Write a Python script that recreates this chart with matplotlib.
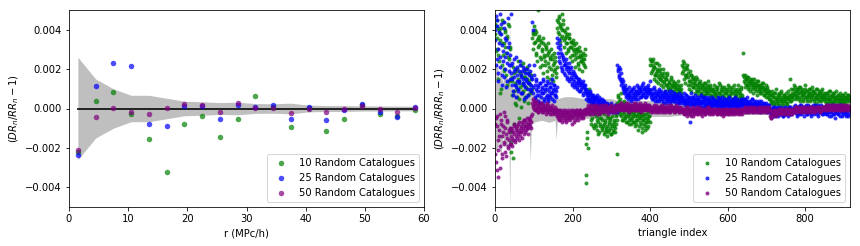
import numpy as np
import matplotlib
matplotlib.use("Agg")
import matplotlib.pyplot as plt

# ---------------- Left panel data ----------------
r_bins = [1.5, 4.5, 7.5, 10.5, 13.5, 16.5, 19.5, 22.5, 25.5, 28.5,
          31.5, 34.5, 37.5, 40.5, 43.5, 46.5, 49.5, 52.5, 55.5, 58.5]
dr_10 = [-0.0022, 0.0004, 0.00084, -0.00027, -0.00153, -0.0032, -0.00077, -0.00037, -0.00143, -0.00052,
         0.00064, 0.0001, -0.00093, 0.00003, -0.00113, -0.00052, 0.0002, -0.00027, -0.0004, -0.00007]
dr_25 = [-0.00234, 0.00114, 0.0023, 0.00217, -0.00077, -0.00088, 0.00015, 0.00012, -0.00052, 0.00019,
         0.0001, 0.00019, -0.00052, 0.00007, -0.00057, -0.00007, 0.00024, -0.00017, -0.00042, 0.00008]
dr_50 = [-0.00209, -0.00045, 0.00003, -0.00017, -0.00027, 0.00003, 0.00024, 0.00017, -0.00017, 0.00029,
         0.00003, 0.00003, -0.00022, -0.00002, -0.00017, -0.00002, 0.00013, 0.0, -0.00017, 0.00003]
dr_std = [0.0026, 0.0015, 0.001, 0.00067, 0.00067, 0.00052, 0.00037, 0.00034, 0.0003, 0.00032,
          0.00025, 0.00024, 0.00027, 0.00017, 0.00015, 0.00015, 0.00013, 0.00013, 0.00012, 0.00012]

# ---------------- Right panel data (units of 1e-4) ----------------
# even triangle indices 0,2,4,... and odd triangle indices 1,3,5,...
tri_10_even = [
    "38 42 30 45 27 40 8 35 41 22 44 33 19 39 28 36 12 43 25 31",
    "-17 -22 14 -25 9 18 3 12 20 6 15 -5 11 17 22 8 13 19 4 16 10 21 7 14 18 12 9 15",
    "36 39 33 38 40 28 35 50 31 37 26 34 29 22 36 27 32 24 30 19 28 33 21 26 30 17 25 22 28 20 24 18",
    "41 44 38 46 42 36 48 40 43 35 39 37 33 41 29 36 38 31 34 27 35 30 32 25 33 28 30 22 31 26 29 24 27 23 28 25 30",
    "-34 -38 -15 -20 5 -3 8 -6 2 -9 -1 6 -8 -4 -11 0 -7 -12 -3 -9 -5 -10 -2 -8 -13 -6 -11 -4 -9 -12 -7 -10 -5 -13 -8 -11 -6 -9 -12 -4 -23",
    "3 7 -2 5 8 -4 1 -6 -3 4 -5 -1 -7 -2 -4 -8 -3 -6 0 -5 -2 -7 -4 -9 -1 -6 -3 -11 -5 -2 -8 -4 -12 -6 -3 -9 -5 -7 -10 -2 -6 -4",
    "25 24 22 19 25 21 17 23 18 20 16 19 22 15 18 14 17 20 13 16 12 15 18 11 14 13 10 16 12 9 14 11 13 8 12 10 14 9 11 7 10",
    "22 24 19 23 17 21 16 20 18 14 19 12 17 15 11 16 13 14 10 15 12 9 13 11 14 8 12 10 13 7 11 9 12 8 14 10 7 11 9 6 10 8 12 7",
    "9 6 11 5 8 12 7 10 4 9 6 11 8 5 10 7 12 6 9 4 8 11 5 9 7 10 6 8 12 5 9 7 4 10 6",
    "28 16 13 17 15 12 16 14 11 15 13 10 14 12 15 11 13 9 12 14 10 12 8 11 13 9 11 7 10 12 8 10 6 9 7",
    "5 3 7 4 6 2 8 5 3 6 4 7 2 5 8 3 6 4 7 5 3 6 2 5 7 4 15 6 8 5",
    "10 8 11 6 9 7 10 5 8 11 6 9 7 4 8 10 6 9 5 7 8 4 10 6 7 9 5 8 6 3 7 10 5 8 6 4 9 7 5 6",
    "6 4 8 5 3 7 5 9 4 6 3 7 5 8 4 6 2 5 7 4 6 3 5 7 4 6 5 3 6 4 7 5 6",
]
tri_10_odd = [
    "43 29 36 15 41 24 38 10 33 45 27 20 40 31 17 37 26 42 14 30",
    "-12 16 7 21 -8 13 2 19 10 24 5 14 18 1 12 23 9 16 6 20 11 15 3 18 13 8 17 10",
    "38 30 42 34 27 39 24 36 32 21 35 25 30 18 33 26 22 31 16 27 23 29 15 25 20 27 14 23 19 26 16 21",
    "45 39 47 43 34 41 37 45 31 40 36 28 38 33 30 36 26 34 31 24 33 27 29 21 30 26 23 29 20 27 24 26 19 25 22 27 21",
    "-18 -12 8 -2 10 0 -8 4 -5 3 -10 -3 1 -9 -6 -2 -13 -5 -8 -1 -11 -6 -9 -3 -12 -7 -10 -14 -5 -8 -11 -6 -13 -9 -4 -12 -7 -10 -3 -8 -6",
    "6 -1 4 -3 2 -6 -2 3 -5 0 -4 -7 1 -3 -6 -1 -5 -8 -2 -4 -7 -3 -1 -6 -8 -4 -2 -9 -5 -7 -3 -10 -6 -4 -8 -11 -3 -7 -5 -9 -4 -7",
    "22 18 24 20 15 21 17 14 19 23 13 17 15 20 12 16 11 18 14 9 15 12 17 10 13 8 15 11 12 9 13 7 11 10 8 12 6 10 9 12 8",
    "18 21 15 20 13 17 22 12 16 10 14 17 9 13 11 15 8 12 16 9 11 7 13 10 8 12 6 11 9 13 7 10 8 11 5 9 12 7 10 6 9 5 8 11",
    "7 10 4 8 13 6 9 3 11 7 5 10 8 3 9 6 11 4 7 10 5 8 3 12 6 9 7 4 10 5 8 6 11 7 5",
    "17 14 11 15 12 16 10 13 14 9 12 15 11 8 13 10 12 7 14 11 9 12 10 8 11 13 7 10 9 6 11 8 9 5 8",
    "7 4 9 3 6 8 4 10 5 7 3 8 6 4 9 5 2 7 6 4 8 3 6 9 5 7 4 10 6 7",
    "12 7 9 5 10 8 6 11 4 9 7 10 5 8 12 6 9 4 7 10 6 8 5 11 7 9 4 8 6 10 5 7 9 4 8 6 10 5 7 8",
    "7 5 3 8 6 4 9 5 7 3 6 8 4 6 5 9 3 7 5 4 8 6 3 7 5 4 8 2 6 5 7 4 5",
]
tri_25_even = [
    "40 47 25 42 18 33 48 21 38 12 29 44 16 26 35 14 23 31 19 27",
    "48 22 15 9 19 25 12 6 17 21 10 14 24 8 16 19 13 5 20 11 15 18 7 13 22 10 16 12",
    "44 40 22 12 6 15 9 4 11 7 13 3 10 8 14 5 9 12 6 10 4 13 7 11 8 15 5 9 12 7 10 6",
    "33 28 35 24 30 21 27 19 25 22 17 23 20 15 21 18 14 20 16 12 19 15 11 17 13 16 10 14 12 15 9 13 11 14 8 12 10",
    "8 5 9 6 7 4 8 5 6 3 7 4 5 6 2 5 3 4 1 5 2 3 0 4 1 2 -1 3 0 2 -1 1 0 2 -2 1 -1 0 1 -1 0",
    "22 19 16 20 14 12 15 10 11 8 9 6 10 7 5 8 6 9 4 7 10 5 8 6 9 7 11 5 8 10 6 9 12 7 10 8 11 6 9 12 8 10",
    "9 6 8 5 7 10 4 6 8 5 7 9 4 6 8 5 7 3 6 8 5 7 4 6 9 5 3 7 5 6 4 8 5 6 3 7 4 6 5 3 6",
    "5 3 6 4 2 5 7 3 4 6 2 -7 5 3 4 6 2 5 3 4 1 5 3 6 2 4 3 5 1 4 6 2 3 5 2 4 3 1 4 2 5 3 2 4",
    "3 1 4 2 5 3 1 4 2 3 5 2 1 4 3 2 5 1 3 4 2 1 3 5 2 4 1 3 2 4 1 3 5 2 3",
    "4 2 3 5 1 3 2 4 1 3 2 5 1 2 4 0 3 2 1 3 4 0 2 1 3 -1 2 0 1 3 -1 1 0 2 -1",
    "-2 0 -3 -1 1 -2 -4 0 -1 -3 1 -2 0 -3 -1 -2 0 -4 -1 1 -2 -3 0 -1 -2 1 -3 -1 0 -2",
    "-1 1 -2 0 -3 1 -1 -2 2 0 -3 -1 1 -2 0 -1 2 -3 0 1 -2 -1 1 -3 0 2 -1 -2 1 0 -3 -1 2 0 -2 1 -1 0 -3 1",
    "0 -2 1 -3 -1 2 0 -2 -4 1 -1 0 -3 2 -1 -2 1 0 -3 -1 2 -2 0 -4 1 -1 -2 0 -3 1 -1 -4 0",
]
tri_25_odd = [
    "35 22 45 30 14 39 26 43 17 32 24 41 20 36 11 28 46 22 33 15",
    "18 12 23 7 16 20 11 26 14 9 19 13 22 17 8 15 21 12 18 6 14 20 10 17 13 19 9 15",
    "11 8 17 5 10 14 7 12 3 9 13 6 11 15 8 4 10 12 7 14 5 9 11 6 13 8 10 4 12 7 9 11",
    "36 31 26 32 23 28 20 26 24 18 22 25 16 21 19 23 15 18 21 13 17 14 18 12 16 11 15 13 9 14 12 10 13 7 11 9 12",
    "10 7 4 8 5 9 3 6 7 4 2 6 5 3 7 1 4 6 2 3 5 1 4 2 0 3 1 -1 2 1 -2 0 3 -1 1 0 -2 2 -1 1 -2",
    "20 17 21 15 18 13 11 14 9 12 7 10 8 6 11 7 9 5 10 6 8 11 7 9 5 12 8 10 6 9 11 7 13 8 10 6 9 11 7 10 9 8",
    "14 7 10 5 8 11 6 9 7 4 8 10 6 5 9 7 4 8 6 9 3 7 5 8 6 4 7 9 5 6 8 4 6 7 5 3 6 8 4 5 7",
    "6 4 8 3 5 7 4 2 6 5 3 8 4 6 2 5 7 3 4 6 2 5 4 3 7 1 4 6 3 2 5 4 1 6 3 5 2 4 6 1 3 5 2 4",
    "4 2 6 3 1 5 2 4 6 1 3 5 2 4 0 3 6 2 4 1 5 3 2 4 6 1 3 5 2 0 4 2 3 5 1",
    "3 5 2 4 1 6 3 2 4 0 3 5 1 2 3 -1 4 2 0 3 1 -2 2 4 0 1 3 -1 2 0 -2 1 2 -1 0",
    "-3 -1 0 -4 -2 -1 1 -3 -2 0 -4 -1 -3 1 -2 -1 -4 0 -2 -3 -1 0 -4 -2 1 -1 -3 -2 0 -1",
    "0 -2 2 -1 -4 0 1 -3 -1 2 -2 0 -1 -4 1 -2 0 -3 2 -1 0 -2 -4 1 -1 0 -3 2 -2 -1 0 -4 1 -2 -1 2 -3 0 -1 -2",
    "-1 1 -3 0 -2 -4 1 -1 -2 2 -3 0 -1 -5 1 -2 0 -3 -1 2 -4 -1 0 -2 -3 1 -1 -4 0 -2 1 -3 -1",
]
tri_50_even = [
    "-23 -5 -31 -9 -35 -14 -3 -19 -8 -23 -12 -2 -17 -10 -24 -6 -15 -20 -11 -18",
    "-14 -18 -11 -16 -9 -13 -17 -10 -12 -15 -8 -11 -14 -9 -12 -7 -10 -13 -6 -9 -11 -5 -8 -10 -6 -9 -4 -7",
    "3 1 4 -1 2 0 3 -2 1 2 -1 0 3 -2 1 -1 2 0 -3 1 -1 2 -2 0 1 -3 -1 0 -2 1 -1 -2",
    "-3 -5 -1 -4 -6 -2 -3 -7 -1 -4 -5 -2 -3 -6 -1 -4 -2 -5 -3 -8 -1 -4 -2 -6 -3 -1 -5 -2 -4 -3 -1 -5 -2 -3 -4 -1 -2",
    "-2 0 -3 1 -1 -2 0 2 -1 -3 0 1 -2 -1 2 0 -1 -3 1 0 -2 1 -1 0 2 -2 -1 1 0 -2 1 -1 0 2 -1 -2 1 0 -1 2 0",
    "1 0 2 -1 1 3 0 2 -1 1 0 2 1 -1 3 0 1 2 -1 0 2 1 -1 1 3 0 -1 2 1 0 -2 1 2 0 -1 1 3 0 1 -1 2 0",
    "0 -1 1 -2 0 2 -1 0 1 -2 -1 1 0 -1 2 -2 0 1 -1 0 -2 1 0 -1 1 -2 0 2 -1 0 1 -1 -2 0 1 -1 0 -2 1 0 -1",
    "-1 -2 0 -3 -1 1 -2 -4 0 -1 -3 -2 0 -1 -4 1 -2 -1 0 -3 -2 -1 1 -2 0 -3 -1 -2 0 -1 -3 0 -2 -1 1 -2 -1 0 -3 -1 -2 0 -1 -2",
    "-2 -1 -3 0 -2 -1 -3 -2 0 -1 -3 -2 -1 0 -2 -3 -1 -2 0 -1 -3 -2 -1 -2 0 -3 -1 -2 -1 0 -2 -3 -1 -2 -1",
    "-1 0 -2 1 -1 0 -2 -1 1 0 -1 -2 0 1 -1 0 -2 -1 0 1 -1 -2 0 -1 1 0 -2 -1 0 -1 1 -2 0 -1 0",
    "-4 -5 -3 -2 -4 -1 -3 -2 -1 -3 -2 0 -2 -1 -3 -1 -2 0 -1 -2 -3 -1 0 -2 -1 -3 -1 0 -2 -1",
    "-1 0 -2 1 0 -1 -2 0 1 -1 0 -2 -1 1 0 -1 0 -2 1 -1 0 1 -1 -2 0 1 0 -1 -2 0 1 -1 0 1 -2 0 -1 1 0 -1",
    "0 1 -1 2 0 1 -1 0 2 1 0 -1 1 2 0 1 -1 0 1 2 -1 0 1 0 2 -1 1 0 1 -1 2 0 1",
]
tri_50_odd = [
    "-8 -27 -4 -16 -21 -11 -30 -6 -14 -25 -9 -18 -4 -22 -13 -7 -19 -12 -16 -10",
    "-10 -15 -19 -12 -8 -16 -11 -14 -9 -13 -16 -7 -12 -10 -15 -8 -11 -6 -12 -9 -7 -10 -13 -5 -8 -6 -10 -3",
    "5 2 0 3 -1 4 1 -2 2 0 3 1 -1 2 -2 0 1 -1 3 -2 0 1 -1 -3 0 2 -2 -1 0 -3 0 -1",
    "-4 -2 -6 -3 -1 -5 -4 -2 -6 -3 -1 -7 -4 -2 -5 -3 -6 -1 -4 -2 -5 -3 -7 -2 -4 -1 -3 -6 -2 -1 -4 -3 -2 -5 -1 -3 -2",
    "0 -1 -2 2 0 -3 1 -1 0 -2 2 -1 0 1 -3 -1 1 0 -2 2 -1 0 -2 1 -1 0 2 -1 -3 0 1 -1 2 0 -2 1 -1 0 1 -2 1",
    "2 -1 1 0 3 1 -1 2 0 1 3 -1 0 2 1 -2 0 2 1 -1 1 3 0 2 -1 1 0 2 -1 3 1 0 -1 2 1 0 2 -1 1 0 2 1",
    "1 -2 0 -1 1 0 -2 2 -1 0 1 -2 -1 0 1 -1 2 0 -2 1 -1 0 -1 2 0 -2 1 -1 0 1 -2 0 -1 2 -1 0 1 -2 0 -1 1",
    "-2 0 -1 -3 -2 0 -1 -3 1 -2 -1 0 -4 -2 -1 -3 0 -2 -1 1 -3 -2 0 -1 -2 -4 -1 0 -2 -3 -1 0 -2 1 -1 -3 -2 0 -1 -2 -3 -1 0 -2",
    "-1 -3 -2 -1 0 -3 -2 -1 -2 -4 -1 0 -2 -3 -1 -2 -1 -3 -2 0 -2 -1 -3 0 -1 -2 -2 -1 -3 -2 0 -1 -2 -3 -1",
    "0 -1 1 -2 0 -1 0 -2 -1 1 -1 0 -2 0 1 -1 -1 0 -2 -1 0 -1 1 -2 -1 0 1 -1 -2 0 -1 0 -2 1 -1",
    "-5 -4 -2 -3 -1 -3 -2 -4 -2 -1 -3 -1 -2 -3 0 -2 -1 -3 -2 -1 0 -2 -3 -1 -2 0 -2 -1 -3 -1",
    "0 -1 1 -1 -2 0 1 -1 0 -2 1 0 -1 0 -2 1 -1 0 -1 1 -2 0 -1 1 0 -1 -2 1 0 -1 0 1 -1 0 -2 1 0 -1 1 0",
    "1 0 2 -1 1 0 2 1 -1 0 1 2 0 -1 1 0 2 1 0 1 -1 2 0 1 -1 0 2 1 0 1 -1 1 0",
]
band_idx = [0, 5, 10, 15, 20, 25, 30, 36, 38, 40, 42, 50, 60, 70, 80, 88, 91, 94, 100, 120,
            140, 155, 158, 161, 180, 200, 230, 260, 300, 316, 350, 400, 450, 500, 560, 640, 700, 760, 820, 880, 916]
band_hi = [20, 25, 15, 22, 13, 18, 16, 14, 45, 14, 11, 10, 9, 11, 8, 9, 10, 8, 7, 6,
           7, 6, 6, 5, 6, 6, 5, 5, 5, 4, 4, 4, 4, 4, 3, 3, 3, 2, 2, 2, 2]
band_lo = [-20, -22, -16, -25, -14, -18, -20, -15, -50, -16, -12, -10, -11, -9, -10, -9, -27, -8, -7, -6,
           -7, -6, -16, -5, -6, -5, -5, -5, -5, -4, -4, -4, -4, -3, -3, -3, -3, -2, -2, -2, -2]
n_triangles = 916

labels = ["10 Random Catalogues", "25 Random Catalogues", "50 Random Catalogues"]
colors = ["green", "blue", "purple"]


def parse(segs):
    return np.array([int(v) for s in segs for v in s.split()]) * 1e-4


def series(even_segs, odd_segs):
    ye = parse(even_segs)
    yo = parse(odd_segs)
    xe = np.arange(len(ye)) * 2
    xo = np.arange(len(yo)) * 2 + 1
    x = np.concatenate([xe, xo])
    y = np.concatenate([ye, yo])
    order = np.argsort(x, kind="stable")
    return x[order], y[order]


fig = plt.figure(figsize=(860 / 72, 246 / 72), dpi=72)
ax1 = fig.add_axes([69 / 860, 1 - 207 / 246, 355 / 860, 197 / 246])
ax2 = fig.add_axes([495 / 860, 1 - 207 / 246, 355 / 860, 197 / 246])

# Left
r = np.array(r_bins)
s = np.array(dr_std)
ax1.fill_between(r, -s, s, color="grey", alpha=0.5, lw=0)
ax1.plot(r, np.zeros_like(r), color="k", lw=2, alpha=0.8)
for vals, c, lab in zip([dr_10, dr_25, dr_50], colors, labels):
    ax1.plot(r, vals, "o", color=c, alpha=0.7, ms=5.5, mew=0, label=lab)
ax1.set_xlim(0, 60)
ax1.set_ylim(-0.005, 0.005)
ax1.set_yticks([-0.004, -0.002, 0.0, 0.002, 0.004])
ax1.set_xlabel("r (MPc/h)")
ax1.set_ylabel(r"$(DR_n/RR_n-1)$")
ax1.legend(loc="lower right")

# Right
ax2.fill_between(band_idx, np.array(band_lo) * 1e-4, np.array(band_hi) * 1e-4,
                 color="grey", alpha=0.5, lw=0)
for (ev, od), c, lab in zip([(tri_10_even, tri_10_odd), (tri_25_even, tri_25_odd),
                             (tri_50_even, tri_50_odd)], colors, labels):
    x, y = series(ev, od)
    ax2.plot(x, y, ".", color=c, alpha=0.8, ms=8, mew=0, label=lab)
ax2.set_xlim(0, n_triangles)
ax2.set_ylim(-0.005, 0.005)
ax2.set_yticks([-0.004, -0.002, 0.0, 0.002, 0.004])
ax2.set_xlabel("triangle index")
ax2.set_ylabel(r"$(DRR_n/RRR_n-1)$")
ax2.legend(loc="lower right")

fig.savefig("out.png", dpi=72)
